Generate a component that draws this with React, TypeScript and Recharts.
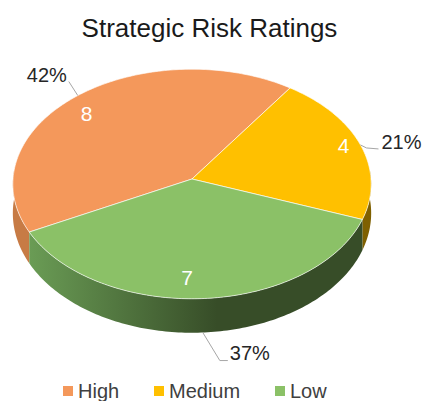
import { Legend, Pie, PieChart } from "recharts";

const categories = ["High", "Medium", "Low"];
const ratings = [8, 4, 7];

const sliceColors = ["#F4985B", "#FFC000", "#8BC167"];
const wallColors = ["#C77B45", "#7F6000", "url(#lowWall)"];

const FONT = '"Liberation Sans", Arial, sans-serif';
const WIDTH = 423;
const HEIGHT = 401;

// the flat pie is tipped back: squash plus a bit of perspective
const RADIUS = 179;
const SQUASH = 0.64;
const PERSPECTIVE = 0.0435;

// label tweaks, relative to the rim point of each slice
const innerNudge = [
    [-8, 6],
    [8, -4],
    [-14, -2],
];
const leaderElbow = [
    [-9, -14],
    [6, 3],
    [17, 28],
];
const leaderEnd = [
    [-9, -14],
    [18, 4],
    [25, 28],
];
const percentOffset = [
    [-31, -21],
    [41, -3],
    [47, 20],
];
const legendLeft = [63, 154, 275];

const data = categories.map((name, i) => ({
    name,
    value: ratings[i],
    fill: sliceColors[i],
}));

// r is 0..1 of the radius, angle is clockwise from 12 o'clock
function project(cx: number, cy: number, angle: number, r = 1) {
    const rad = (angle * Math.PI) / 180;
    const u = r * Math.sin(rad);
    const v = -r * Math.cos(rad);
    const w = 1 - PERSPECTIVE * v;
    return { x: cx + (RADIUS * u) / w, y: cy + (RADIUS * SQUASH * v) / w, v };
}

function wallDepth(v: number) {
    return 29 + 5 * v;
}

function toClock(angle: number) {
    return 90 - angle;
}

function arcPoints(cx: number, cy: number, from: number, to: number) {
    const pts = [];
    const steps = Math.max(2, Math.ceil(to - from));
    for (let i = 0; i <= steps; i++) {
        pts.push(project(cx, cy, from + ((to - from) * i) / steps));
    }
    return pts;
}

function pathOf(pts: { x: number; y: number }[]) {
    return pts.map((p, i) => `${i ? "L" : "M"}${p.x.toFixed(2)} ${p.y.toFixed(2)}`).join(" ");
}

function Slice3D(props: any) {
    const { cx, cy, startAngle, endAngle, fill, index } = props;
    let from = toClock(startAngle);
    let to = toClock(endAngle);
    while (from >= 360) {
        from -= 360;
        to -= 360;
    }
    const wallFrom = Math.max(from, 85);
    const wallTo = Math.min(to, 275);
    const top = arcPoints(cx, cy, from, to);
    let wall = null;
    if (wallTo > wallFrom) {
        const rim = arcPoints(cx, cy, wallFrom, wallTo);
        const under = rim.map((p) => ({ x: p.x, y: p.y + wallDepth(p.v) })).reverse();
        wall = <path d={pathOf([...rim, ...under]) + " Z"} fill={wallColors[index]} stroke="none" />;
    }
    return (
        <g>
            <defs>
                <linearGradient id="lowWall" gradientUnits="userSpaceOnUse" x1={29} y1={0} x2={217} y2={0}>
                    <stop offset="0%" stopColor="#6A9C55" />
                    <stop offset="100%" stopColor="#374D28" />
                </linearGradient>
            </defs>
            {wall}
            <path
                d={`M${cx} ${cy} ` + pathOf(top).replace("M", "L") + " Z"}
                fill={fill}
                stroke="#FFFFFF"
                strokeOpacity={0.7}
                strokeWidth={0.9}
            />
        </g>
    );
}

function SliceLabel(props: any) {
    const { cx, cy, midAngle, value, percent, index } = props;
    const mid = toClock(midAngle);
    const inner = project(cx, cy, mid, 0.85);
    const rim = project(cx, cy, mid);
    const ax = rim.x;
    // the front slice hangs its leader off the bottom of the wall
    const ay = rim.v > 0.5 ? rim.y + wallDepth(rim.v) : rim.y;
    const elbow = leaderElbow[index];
    const end = leaderEnd[index];
    const offset = percentOffset[index];
    return (
        <g>
            <text
                x={inner.x + innerNudge[index][0]}
                y={inner.y + innerNudge[index][1]}
                fill="#FFFFFF"
                fontFamily={FONT}
                fontSize={21}
                textAnchor="middle"
                dominantBaseline="central"
            >
                {value}
            </text>
            <polyline
                points={`${ax},${ay} ${ax + elbow[0]},${ay + elbow[1]} ${ax + end[0]},${ay + end[1]}`}
                fill="none"
                stroke="#A6A6A6"
                strokeWidth={1}
            />
            <text
                x={ax + offset[0]}
                y={ay + offset[1]}
                fill="#262626"
                fontFamily={FONT}
                fontSize={20}
                textAnchor="middle"
                dominantBaseline="central"
            >
                {Math.round(percent * 100)}%
            </text>
        </g>
    );
}

function LegendRow({ payload }: any) {
    return (
        <div style={{ position: "relative", height: 20 }}>
            {(payload || []).map((entry: any, i: number) => (
                <div
                    key={entry.value}
                    style={{
                        position: "absolute",
                        left: legendLeft[i],
                        top: 0,
                        display: "flex",
                        alignItems: "center",
                        whiteSpace: "nowrap",
                        fontFamily: FONT,
                        fontSize: 20,
                        lineHeight: "20px",
                        color: "#404040",
                    }}
                >
                    <span style={{ width: 10, height: 10, marginRight: 5, background: entry.color }} />
                    {entry.value}
                </div>
            ))}
        </div>
    );
}

export default function App() {
    return (
        <div
            style={{
                position: "absolute",
                left: 0,
                top: 0,
                width: WIDTH,
                height: HEIGHT,
                overflow: "hidden",
                background: "#FFFFFF",
            }}
        >
            <div
                style={{
                    position: "absolute",
                    left: 0,
                    top: 13,
                    width: 419,
                    textAlign: "center",
                    fontFamily: FONT,
                    fontSize: 26,
                    lineHeight: "30px",
                    color: "#1A1A1A",
                }}
            >
                Strategic Risk Ratings
            </div>
            <PieChart width={WIDTH} height={HEIGHT} margin={{ top: 0, right: 0, bottom: 0, left: 0 }}>
                <Pie
                    data={data}
                    dataKey="value"
                    nameKey="name"
                    cx={192}
                    cy={179}
                    innerRadius={0}
                    outerRadius={RADIUS}
                    startAngle={-153}
                    endAngle={-513}
                    stroke="none"
                    shape={Slice3D}
                    label={SliceLabel}
                    labelLine={false}
                    isAnimationActive={false}
                />
                <Legend
                    content={LegendRow}
                    itemSorter={null}
                    wrapperStyle={{ position: "absolute", left: 0, top: 381, width: WIDTH, height: 20 }}
                />
            </PieChart>
        </div>
    );
}
